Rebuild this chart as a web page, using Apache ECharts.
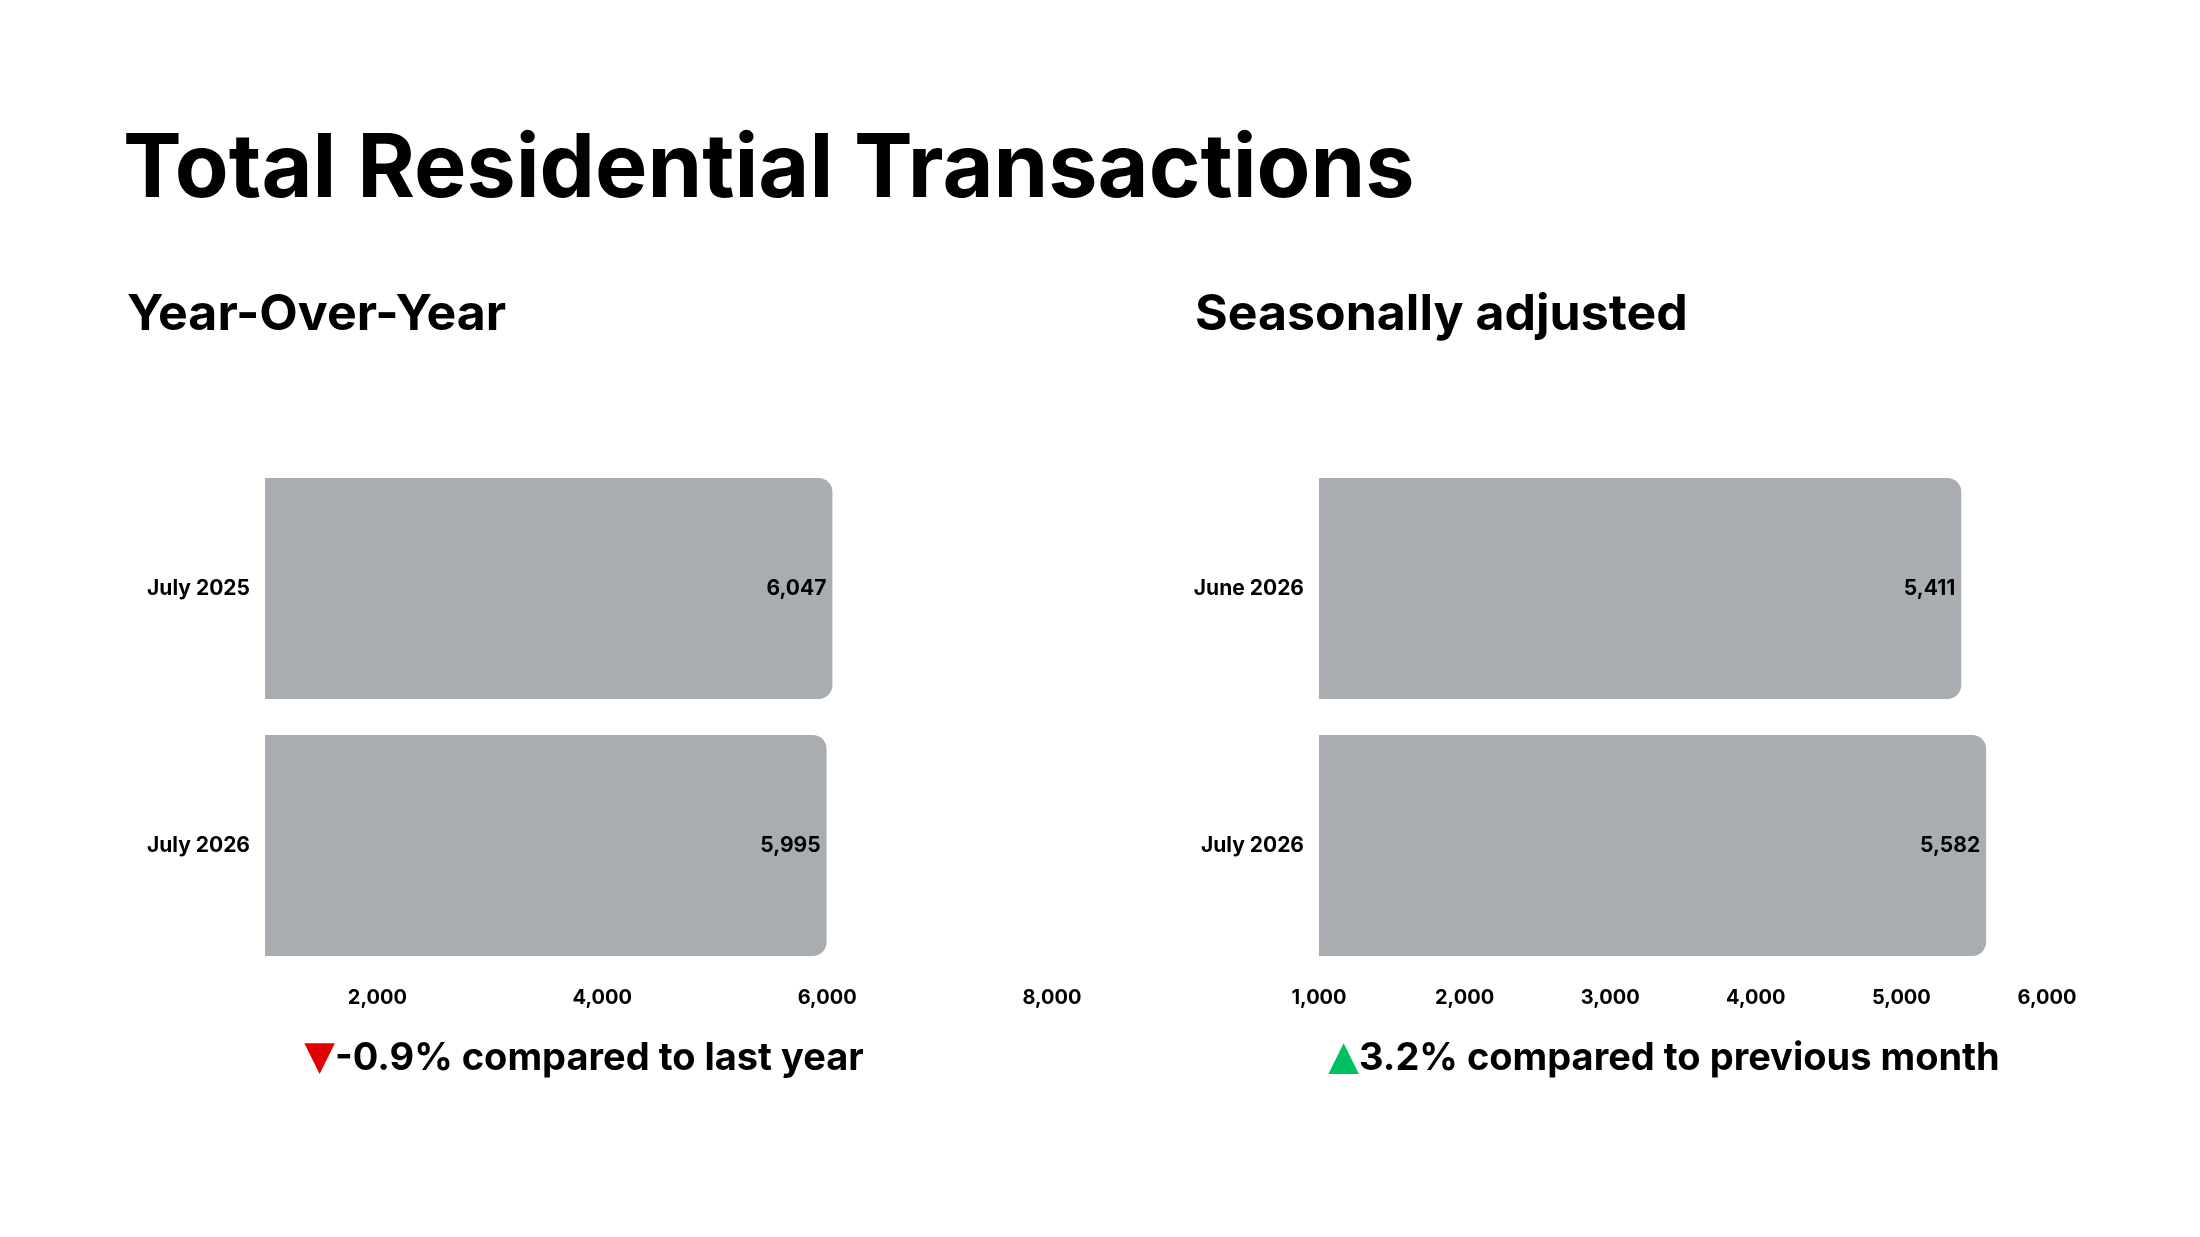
<!DOCTYPE html>
<html>
<head>
<meta charset="utf-8">
<script src="https://cdn.jsdelivr.net/npm/echarts@6/dist/echarts.min.js"></script>
<style>html,body{margin:0;padding:0;background:#fff}#main{width:2200px;height:1237px}</style>
</head>
<body>
<div id="main"></div>
<script>
var yoyCategories = ['July 2025', 'July 2026'];
var yoyValues = [6047, 5995];
var saCategories = ['June 2026', 'July 2026'];
var saValues = [5411, 5582];

var font = 'Inter';
var barColor = '#a9adb1';

function catAxis(idx, cats) {
    return {
        type: 'category', gridIndex: idx, data: cats, inverse: true,
        axisLine: {show: false}, axisTick: {show: false},
        axisLabel: {fontFamily: font, fontWeight: 'bold', fontSize: 21, color: '#000', margin: 15}
    };
}
function valAxis(idx, min, max, hideOdd) {
    return {
        type: 'value', gridIndex: idx, min: min, max: max, interval: 1000,
        splitLine: {show: false}, axisLine: {show: false}, axisTick: {show: false},
        axisLabel: {
            fontFamily: font, fontWeight: 'bold', fontSize: 20, color: '#000', margin: 14,
            formatter: function (v) {
                if (hideOdd && (v / 1000) % 2 === 1) return '';
                return v.toLocaleString('en-US');
            }
        }
    };
}
function barSeries(idx, vals) {
    return {
        type: 'bar', xAxisIndex: idx, yAxisIndex: idx, data: vals,
        barCategoryGap: '14%',
        itemStyle: {color: barColor, borderRadius: [0, 14, 14, 0]},
        label: {
            show: true, position: 'insideRight', distance: 6,
            fontFamily: font, fontWeight: 'bold', fontSize: 21, color: '#000',
            formatter: function (p) { return p.value.toLocaleString('en-US'); }
        }
    };
}

var myChart = echarts.init(document.getElementById('main'));
var option = {
    backgroundColor: '#fff',
    animation: false,
    title: [
        {text: 'Total Residential Transactions', left: 118, top: 122,
         textStyle: {fontFamily: font, fontWeight: 'bold', fontSize: 88, color: '#000'}},
        {text: 'Year-Over-Year', left: 122, top: 285,
         textStyle: {fontFamily: font, fontWeight: 'bold', fontSize: 50, color: '#000'}},
        {text: 'Seasonally adjusted', left: 1190, top: 285,
         textStyle: {fontFamily: font, fontWeight: 'bold', fontSize: 50, color: '#000'}}
    ],
    grid: [
        {left: 265, right: 1148, top: 460, bottom: 263},
        {left: 1319, right: 153, top: 460, bottom: 263}
    ],
    xAxis: [valAxis(0, 1000, 8000, true), valAxis(1, 1000, 6000, false)],
    yAxis: [catAxis(0, yoyCategories), catAxis(1, saCategories)],
    series: [barSeries(0, yoyValues), barSeries(1, saValues)],
    graphic: [
        {type: 'text', x: 584, y: 1059, style: {
            text: '{r|▼}{t|-0.9% compared to last year}', align: 'center', verticalAlign: 'middle',
            rich: {r: {fill: '#e00000', fontSize: 40, fontFamily: 'DejaVu Sans'},
                   t: {fill: '#000', fontSize: 38, fontWeight: 'bold', fontFamily: font}}}},
        {type: 'text', x: 1664, y: 1059, style: {
            text: '{g|▲}{t|3.2% compared to previous month}', align: 'center', verticalAlign: 'middle',
            rich: {g: {fill: '#00c060', fontSize: 40, fontFamily: 'DejaVu Sans'},
                   t: {fill: '#000', fontSize: 38, fontWeight: 'bold', fontFamily: font}}}}
    ]
};
myChart.setOption(option);
</script>
</body>
</html>
